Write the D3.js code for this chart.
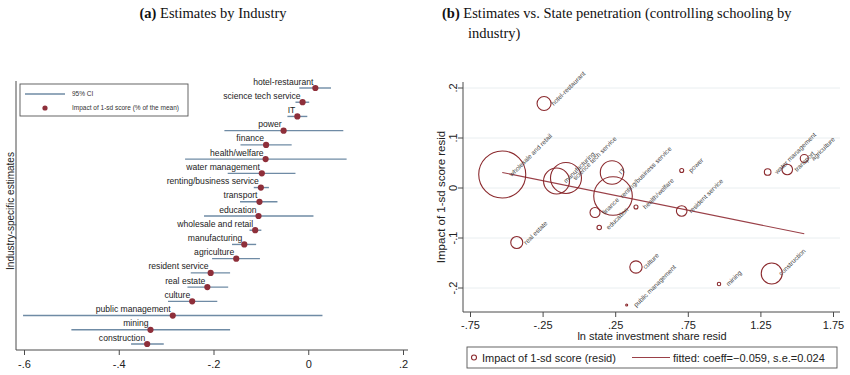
<!DOCTYPE html>
<html><head><meta charset="utf-8">
<script src="https://cdn.jsdelivr.net/npm/d3@7"></script>
<style>body{margin:0;background:#fff} svg{display:block}</style>
</head><body>
<svg id="c" width="850" height="375"></svg>
<script>
// ---------- Panel (a) data ----------
const industries = ["hotel-restaurant","science tech service","IT","power","finance","health/welfare",
  "water management","renting/business service","transport","education","wholesale and retail",
  "manufacturing","agriculture","resident service","real estate","culture","public management","mining","construction"];
const estimates = [0.015,-0.012,-0.023,-0.052,-0.089,-0.090,-0.098,-0.100,-0.103,-0.105,-0.112,-0.135,-0.152,-0.206,-0.213,-0.245,-0.286,-0.333,-0.340];
const ciLow  = [-0.019,-0.027,-0.044,-0.177,-0.143,-0.260,-0.170,-0.115,-0.144,-0.220,-0.124,-0.161,-0.203,-0.248,-0.255,-0.296,-0.602,-0.500,-0.374];
const ciHigh = [0.048,0.002,-0.002,0.074,-0.035,0.081,-0.027,-0.083,-0.065,0.011,-0.099,-0.110,-0.102,-0.165,-0.169,-0.192,0.030,-0.165,-0.305];
const xTicksA = [-0.6,-0.4,-0.2,0,0.2];
const xTickLabelsA = ["-.6","-.4","-.2","0",".2"];

// ---------- Panel (b) data ----------
const bubbleIndustries = ["hotel-restaurant","wholesale and retail","manufacturing","science tech service","IT",
  "renting/business service","finance","education","health/welfare","power","resident service",
  "water management","transport","agriculture","real estate","culture","public management","mining","construction"];
const investResid = [-0.240,-0.528,-0.154,-0.089,0.228,0.235,0.111,0.140,0.393,0.708,0.708,1.300,1.435,1.552,-0.428,0.393,0.329,0.965,1.328];
const scoreResid  = [0.169,0.027,0.014,0.020,0.031,-0.016,-0.049,-0.079,-0.038,0.035,-0.046,0.032,0.037,0.059,-0.109,-0.158,-0.234,-0.192,-0.171];
const bubbleWeight = [49,552,169,240,137,372,25,5,4,4,28,11,28,16,36,38,1,3,110];
const fitIntercept = 0.0;
const fitCoeff = -0.059;
const xTicksB = [-0.75,-0.25,0.25,0.75,1.25,1.75];
const xTickLabelsB = ["-.75","-.25",".25",".75","1.25","1.75"];
const yTicksB = [-0.2,-0.1,0,0.1,0.2];
const yTickLabelsB = ["-.2","-.1","0",".1",".2"];

const svg = d3.select("#c");
const SANS = "'Liberation Sans', Arial, sans-serif";
const SERIF = "'Liberation Serif', 'Times New Roman', serif";
const AXIS = "#4a4a4a";
const CI_COL = "#6f8ba5";
const DOT_COL = "#8e2f3a";
const MAROON = "#8b2a2e";

// ---------- Titles ----------
const tA = svg.append("text").attr("x",213).attr("y",18).attr("text-anchor","middle")
  .style("font-family",SERIF).style("font-size","14.5px").attr("fill","#111");
tA.append("tspan").style("font-weight","bold").text("(a)");
tA.append("tspan").text(" Estimates by Industry");

const tB = svg.append("text").attr("x",442).attr("y",18)
  .style("font-family",SERIF).style("font-size","14.5px").attr("fill","#111");
tB.append("tspan").style("font-weight","bold").text("(b)");
tB.append("tspan").text(" Estimates vs. State penetration (controlling schooling by");
svg.append("text").attr("x",468).attr("y",38)
  .style("font-family",SERIF).style("font-size","14.5px").attr("fill","#111").text("industry)");

// ---------- Panel (a) ----------
const xA = d3.scaleLinear().domain([-0.6,0.2]).range([24,403]);
const yA = d3.scalePoint().domain(industries).range([88,344]);
const gA = svg.append("g");

// axes lines
gA.append("line").attr("x1",16).attr("x2",16).attr("y1",81).attr("y2",350).attr("stroke",AXIS).attr("stroke-width",1);
const axA = gA.append("g").attr("transform","translate(0,350)")
  .call(d3.axisBottom(xA).tickValues(xTicksA).tickSize(5).tickFormat((d,i)=>xTickLabelsA[i]));
axA.select(".domain").attr("d","M16,0H408").attr("stroke",AXIS);
axA.selectAll(".tick line").attr("stroke",AXIS);
axA.selectAll(".tick text").style("font-family",SANS).style("font-size","11px").attr("fill","#222").attr("dy","0.9em");

gA.append("text").attr("transform","translate(10,211) rotate(-90)").attr("text-anchor","middle")
  .attr("dy","0.35em").style("font-family",SANS).style("font-size","10px").attr("fill","#222")
  .text("Industry-specific estimates");

// CI lines
gA.selectAll("line.ci").data(industries).join("line").attr("class","ci")
  .attr("x1",(d,i)=>xA(ciLow[i])).attr("x2",(d,i)=>xA(ciHigh[i]))
  .attr("y1",d=>yA(d)).attr("y2",d=>yA(d))
  .attr("stroke",CI_COL).attr("stroke-width",1.4);
// dots
gA.selectAll("circle.est").data(industries).join("circle").attr("class","est")
  .attr("cx",(d,i)=>xA(estimates[i])).attr("cy",d=>yA(d)).attr("r",3.1).attr("fill",DOT_COL);
// labels
gA.selectAll("text.lab").data(industries).join("text").attr("class","lab")
  .attr("x",(d,i)=>xA(estimates[i])-2).attr("y",d=>yA(d)-3.5).attr("text-anchor","end")
  .style("font-family",SANS).style("font-size","8.6px").attr("fill","#222").text(d=>d);

// legend (a)
const lgA = gA.append("g");
lgA.append("rect").attr("x",20).attr("y",84).attr("width",168).attr("height",32)
  .attr("fill","#fff").attr("stroke","#555").attr("stroke-width",0.9);
lgA.append("line").attr("x1",25).attr("x2",65).attr("y1",94).attr("y2",94).attr("stroke",CI_COL).attr("stroke-width",1.4);
lgA.append("circle").attr("cx",45).attr("cy",108).attr("r",2.6).attr("fill",DOT_COL);
lgA.append("text").attr("x",72).attr("y",96.3).style("font-family",SANS).style("font-size","6.5px").attr("fill","#333").text("95% CI");
lgA.append("text").attr("x",72).attr("y",110.3).style("font-family",SANS).style("font-size","6.5px").attr("fill","#333").text("Impact of 1-sd score (% of the mean)");

// ---------- Panel (b) ----------
const xB = d3.scaleLinear().domain([-0.75,1.75]).range([470,833]);
const yB = d3.scaleLinear().domain([-0.2,0.2]).range([288,88]);
const rB = d3.scaleSqrt().domain([0,d3.max(bubbleWeight)]).range([0,23.5]);
const gB = svg.append("g");

// gridlines
gB.selectAll("line.grid").data(yTicksB).join("line").attr("class","grid")
  .attr("x1",463).attr("x2",840).attr("y1",d=>yB(d)).attr("y2",d=>yB(d))
  .attr("stroke","#e9eef0").attr("stroke-width",1);

// y axis
gB.append("line").attr("x1",463).attr("x2",463).attr("y1",82).attr("y2",312).attr("stroke",AXIS);
gB.selectAll("line.yt").data(yTicksB).join("line").attr("class","yt")
  .attr("x1",458).attr("x2",463).attr("y1",d=>yB(d)).attr("y2",d=>yB(d)).attr("stroke",AXIS);
gB.selectAll("text.ytl").data(yTicksB).join("text").attr("class","ytl")
  .attr("transform",d=>`translate(457,${yB(d)}) rotate(-90)`).attr("text-anchor","middle")
  .style("font-family",SANS).style("font-size","11px").attr("fill","#222").text((d,i)=>yTickLabelsB[i]);
gB.append("text").attr("transform","translate(441,197) rotate(-90)").attr("text-anchor","middle")
  .attr("dy","0.35em").style("font-family",SANS).style("font-size","11.5px").attr("fill","#222")
  .text("Impact of 1-sd score resid");

// x axis
const axB = gB.append("g").attr("transform","translate(0,312)")
  .call(d3.axisBottom(xB).tickValues(xTicksB).tickSize(5).tickFormat((d,i)=>xTickLabelsB[i]));
axB.select(".domain").attr("d","M463,0H840").attr("stroke",AXIS);
axB.selectAll(".tick line").attr("stroke",AXIS);
axB.selectAll(".tick text").style("font-family",SANS).style("font-size","11px").attr("fill","#222").attr("dy","0.85em");
gB.append("text").attr("x",652).attr("y",340).attr("text-anchor","middle")
  .style("font-family",SANS).style("font-size","11px").attr("fill","#222").text("ln state investment share resid");

// fitted line
const xExt = d3.extent(investResid);
gB.append("line").attr("x1",xB(xExt[0])).attr("x2",xB(xExt[1]))
  .attr("y1",yB(fitIntercept+fitCoeff*xExt[0])).attr("y2",yB(fitIntercept+fitCoeff*xExt[1]))
  .attr("stroke","#9a4048").attr("stroke-width",1.1);

// bubbles
gB.selectAll("circle.bub").data(bubbleIndustries).join("circle").attr("class","bub")
  .attr("cx",(d,i)=>xB(investResid[i])).attr("cy",(d,i)=>yB(scoreResid[i]))
  .attr("r",(d,i)=>Math.max(0.9,rB(bubbleWeight[i])))
  .attr("fill","none").attr("stroke",MAROON).attr("stroke-width",1.1);
// bubble labels
gB.selectAll("text.blab").data(bubbleIndustries).join("text").attr("class","blab")
  .attr("transform",(d,i)=>`translate(${xB(investResid[i])+8},${yB(scoreResid[i])+1}) rotate(-45)`)
  .attr("dy","0.35em").style("font-family",SANS).style("font-size","6.5px").attr("fill","#444").text(d=>d);

// legend (b)
const lgB = gB.append("g");
lgB.append("rect").attr("x",467).attr("y",347).attr("width",370).attr("height",21)
  .attr("fill","#fff").attr("stroke","#555").attr("stroke-width",0.9);
lgB.append("circle").attr("cx",474).attr("cy",357.5).attr("r",2.5).attr("fill","none").attr("stroke",MAROON).attr("stroke-width",1.1);
lgB.append("text").attr("x",482).attr("y",361.5).style("font-family",SANS).style("font-size","11px").attr("fill","#222").text("Impact of 1-sd score (resid)");
lgB.append("line").attr("x1",632).attr("x2",670).attr("y1",357.5).attr("y2",357.5).attr("stroke","#9a4048").attr("stroke-width",1.1);
lgB.append("text").attr("x",673).attr("y",361.5).style("font-family",SANS).style("font-size","11px").attr("fill","#222").text("fitted: coeff=\u22120.059, s.e.=0.024");
</script>
</body></html>
